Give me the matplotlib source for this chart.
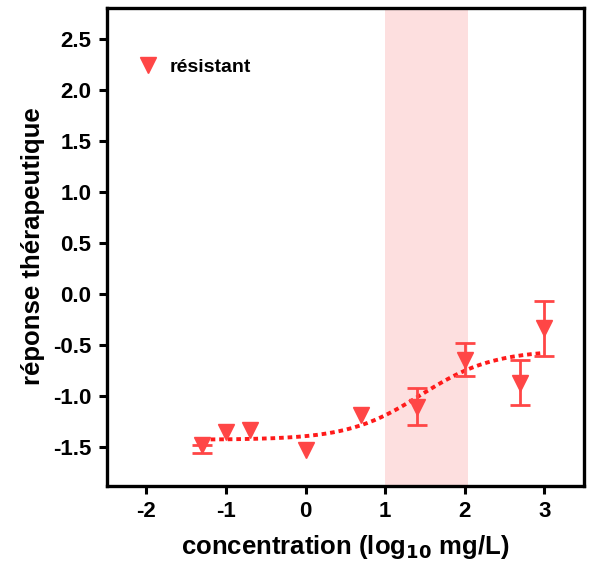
import matplotlib
matplotlib.use("Agg")
import matplotlib.pyplot as plt
from matplotlib.lines import Line2D
import numpy as np

plt.rcParams.update({
    "font.family": ["Liberation Sans", "DejaVu Sans"],
    "font.weight": "bold",
    "axes.labelweight": "bold",
    "axes.unicode_minus": False,
})

# data
log_conc = [-1.3, -1.0, -0.7, 0.0, 0.7, 1.4, 2.0, 2.7, 3.0]
response = [-1.48, -1.35, -1.33, -1.53, -1.19, -1.11, -0.65, -0.87, -0.33]
err_lo = [0.08, np.nan, np.nan, np.nan, np.nan, 0.18, 0.15, 0.22, 0.28]
err_hi = [0.0, np.nan, np.nan, np.nan, np.nan, 0.19, 0.17, 0.22, 0.26]

# fitted sigmoid (bottom, top, logEC50, hill slope)
fit_bottom, fit_top, fit_logec50, fit_hill = -1.43, -0.55, 1.45, 0.95
fit_range = (-1.3, 3.0)

band = (1.0, 2.04)
red = "#ff4646"

fig = plt.figure(figsize=(5.89, 5.64), dpi=100)
ax = fig.add_axes([0.181, 0.139, 0.8105, 0.8477])

ax.axvspan(band[0], band[1], color="#fddfdf", lw=0, zorder=0)

xf = np.linspace(fit_range[0], fit_range[1], 200)
yf = fit_bottom + (fit_top - fit_bottom) / (1 + 10 ** ((fit_logec50 - xf) * fit_hill))
ax.plot(xf, yf, color="#ff1a1a", lw=2.8, ls=(0, (1.2, 1.0)), zorder=2)

has_err = ~np.isnan(err_lo)
x_arr = np.array(log_conc)
y_arr = np.array(response)
ax.errorbar(x_arr[has_err], y_arr[has_err],
            yerr=[np.array(err_lo)[has_err], np.array(err_hi)[has_err]],
            fmt="none", ecolor=red, elinewidth=2, capsize=7, capthick=2, zorder=3)
ax.plot(log_conc, response, "v", color=red, ms=11, zorder=4)

ax.set_xlim(-2.5, 3.5)
ax.set_ylim(-1.88, 2.81)
ax.set_xticks([-2, -1, 0, 1, 2, 3])
ax.set_yticks([-1.5, -1.0, -0.5, 0.0, 0.5, 1.0, 1.5, 2.0, 2.5])
ax.set_yticklabels([f"{v:.1f}" for v in ax.get_yticks()])

for s in ax.spines.values():
    s.set_linewidth(2.4)
ax.tick_params(width=2.2, length=6, labelsize=16, direction="out", pad=5)

ax.set_xlabel(r"concentration (log$_{\mathbf{10}}$ mg/L)", fontsize=18.5, labelpad=8)
ax.set_ylabel("réponse thérapeutique", fontsize=18.5, labelpad=6)

handle = Line2D([], [], marker="v", color=red, ls="none", ms=11)
ax.legend([handle], ["résistant"], loc="upper left", frameon=False,
          bbox_to_anchor=(0.03, 0.93), handlelength=1.0, handletextpad=0.6,
          prop={"weight": "bold", "size": 14})

fig.savefig("out.png", dpi=100)
